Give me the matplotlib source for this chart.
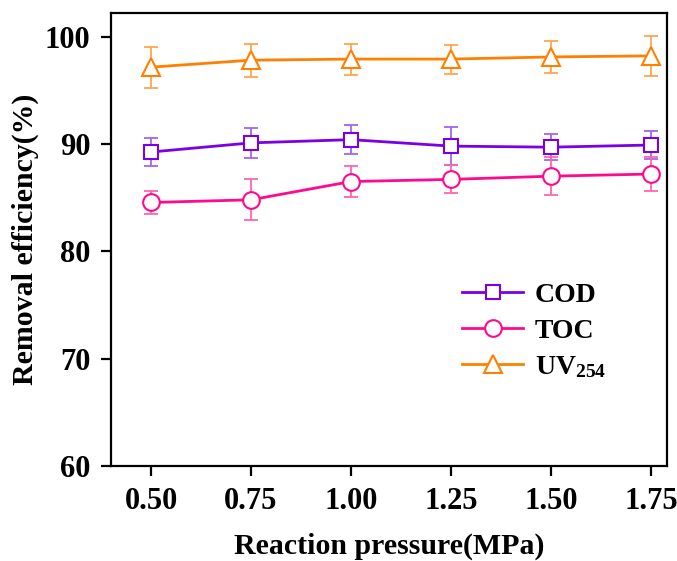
import matplotlib
matplotlib.use("Agg")
import matplotlib.pyplot as plt

plt.rcParams["font.family"] = "Liberation Serif"
plt.rcParams["font.weight"] = "bold"
plt.rcParams["mathtext.fontset"] = "custom"
plt.rcParams["mathtext.rm"] = "Liberation Serif:bold"
plt.rcParams["mathtext.it"] = "Liberation Serif:bold"
plt.rcParams["mathtext.bf"] = "Liberation Serif:bold"

pressure = [0.50, 0.75, 1.00, 1.25, 1.50, 1.75]

cod = [89.25, 90.1, 90.4, 89.8, 89.7, 89.9]
cod_err = [1.3, 1.4, 1.35, 1.75, 1.2, 1.3]

toc = [84.55, 84.8, 86.5, 86.7, 87.0, 87.2]
toc_err = [1.1, 1.9, 1.45, 1.3, 1.75, 1.55]

uv254 = [97.15, 97.8, 97.9, 97.9, 98.1, 98.2]
uv254_err = [1.9, 1.55, 1.45, 1.35, 1.45, 1.85]

series = [
    ("COD", cod, cod_err, "s", "#7a00e6", "#a064f0", 10),
    ("TOC", toc, toc_err, "o", "#ff0a8c", "#ff64b0", 12),
    ("UV$_{254}$", uv254, uv254_err, "^", "#ff7f00", "#ffa64d", 13),
]

fig = plt.figure(figsize=(6.77, 5.61), dpi=100)
ax = fig.add_axes([0.164, 0.169, 0.821, 0.808])

for label, vals, err, marker, color, ecolor, ms in series:
    ax.errorbar(pressure, vals, yerr=err, fmt="none", ecolor=ecolor,
                elinewidth=1.3, capsize=5, capthick=1.3, zorder=2)
    ax.plot(pressure, vals, color=color, lw=2, marker=marker, ms=ms,
            mfc="white", mec=color, mew=1.5, label=label, zorder=3)

ax.set_xlim(0.40, 1.79)
ax.set_ylim(60, 102.2)
ax.set_xticks(pressure)
ax.set_xticklabels([f"{p:.2f}" for p in pressure])
ax.set_yticks([60, 70, 80, 90, 100])

for side in ax.spines.values():
    side.set_linewidth(1.6)
ax.tick_params(direction="out", length=7, width=1.6, labelsize=22, pad=8)

ax.set_xlabel("Reaction pressure(MPa)", fontsize=21.5, fontweight="bold", labelpad=12)
ax.set_ylabel("Removal efficiency(%)", fontsize=21.5, fontweight="bold", labelpad=4)

ax.legend(loc="lower right", bbox_to_anchor=(0.935, 0.135), frameon=False,
          prop={"size": 20, "weight": "bold"}, handlelength=2.2,
          handletextpad=0.4, labelspacing=0.38)

fig.savefig("out.png", dpi=100)
